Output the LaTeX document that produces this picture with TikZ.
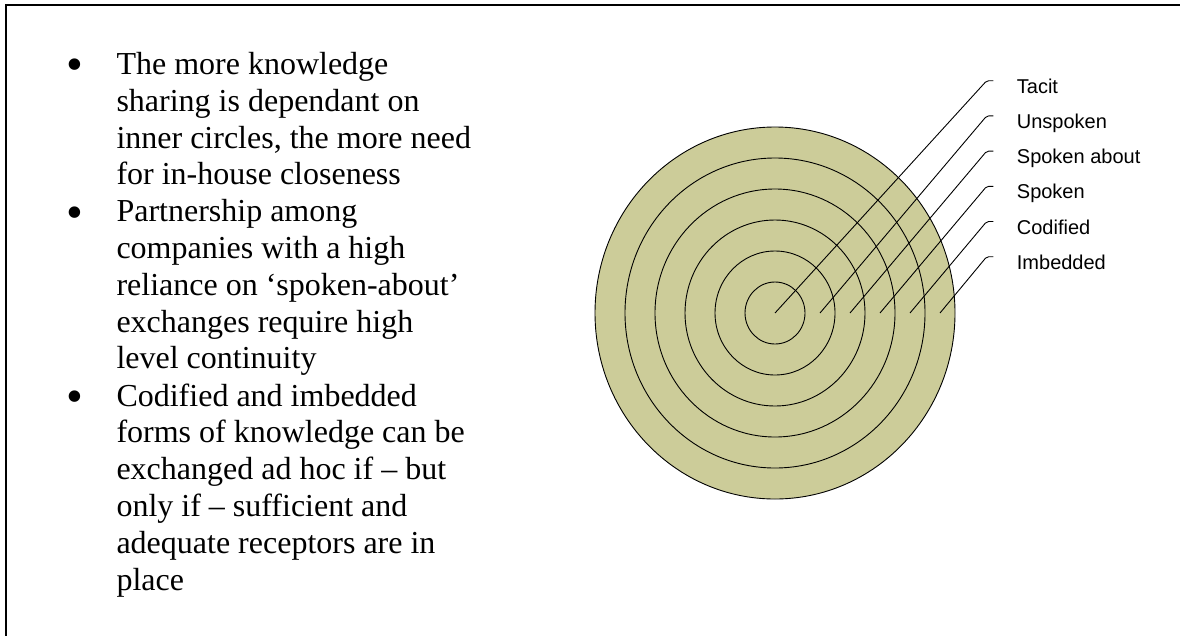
\documentclass[tikz,border=0pt]{standalone}
\usepackage{fontspec}
\setmainfont{Liberation Serif}
\newfontfamily\lblfont{Liberation Sans}
\usetikzlibrary{positioning}
\definecolor{ringfill}{HTML}{CCCC99}
\newcommand{\bigdot}{\llap{\raisebox{-6.4pt}{\fontsize{48}{36.8}\selectfont\textbullet}\hspace{32.8pt}}}

\begin{document}
\begin{tikzpicture}[x=1pt, y=-1pt,
      ring/.style={draw=black, fill=ringfill, line width=0.9pt},
      leader/.style={draw=black, line width=0.9pt, rounded corners=2pt},
      lbl/.style={font=\lblfont\fontsize{20}{24}\selectfont, inner sep=0pt, anchor=base west},
      item/.style={font=\fontsize{32}{36.8}\selectfont, inner sep=0pt, anchor=north west, align=left}]
      \useasboundingbox (0,0) rectangle (1180,635);
      \draw[line width=2pt] (5.8,640) -- (5.8,5) -- (1185,5);
      % bullet text
      \node[item] (closeness) at (116.3,52.1) {\bigdot The more knowledge\\sharing is dependant on\\inner circles, the more need\\for in-house closeness};
      \node[item] (continuity) at (116.3,199.3) {\bigdot Partnership among\\companies with a high\\reliance on ‘spoken-about’\\exchanges require high\\level continuity};
      \node[item] (receptors) at (116.3,383.3) {\bigdot Codified and imbedded\\forms of knowledge can be\\exchanged ad hoc if – but\\only if – sufficient and\\adequate receptors are in\\place};
      % rings
      \coordinate (ctr) at (775,313);
      \draw[ring] (ctr) ellipse [x radius=180pt, y radius=186pt];
      \draw[ring] (ctr) ellipse [x radius=150pt, y radius=155pt];
      \draw[ring] (ctr) ellipse [x radius=120pt, y radius=124pt];
      \draw[ring] (ctr) ellipse [x radius=90pt, y radius=93pt];
      \draw[ring] (ctr) ellipse [x radius=60pt, y radius=62pt];
      \draw[ring] (ctr) ellipse [x radius=30pt, y radius=31pt];
      % labels
      \node[lbl] (tacit) at (1016.7,93.3) {Tacit};
      \node[lbl] (unspoken) at (1016.7,128.5) {Unspoken};
      \node[lbl] (spokab) at (1016.7,163.7) {Spoken about};
      \node[lbl] (spoken) at (1016.7,198.9) {Spoken};
      \node[lbl] (codif) at (1016.7,234.1) {Codified};
      \node[lbl] (imbed) at (1016.7,269.3) {Imbedded};
      \coordinate (p1) at (775,313); \coordinate (p2) at (820,313); \coordinate (p3) at (850,313);
      \coordinate (p4) at (880,313); \coordinate (p5) at (910,313); \coordinate (p6) at (940,313);
      \draw[leader] (p1) -- ([shift={(-30,-12.6)}]tacit.base west) -- ([shift={(-23.4,-12.6)}]tacit.base west);
      \draw[leader] (p2) -- ([shift={(-30,-12.6)}]unspoken.base west) -- ([shift={(-23.4,-12.6)}]unspoken.base west);
      \draw[leader] (p3) -- ([shift={(-30,-12.6)}]spokab.base west) -- ([shift={(-23.4,-12.6)}]spokab.base west);
      \draw[leader] (p4) -- ([shift={(-30,-12.6)}]spoken.base west) -- ([shift={(-23.4,-12.6)}]spoken.base west);
      \draw[leader] (p5) -- ([shift={(-30,-12.6)}]codif.base west) -- ([shift={(-23.4,-12.6)}]codif.base west);
      \draw[leader] (p6) -- ([shift={(-30,-12.6)}]imbed.base west) -- ([shift={(-23.4,-12.6)}]imbed.base west);
    \end{tikzpicture}
\end{document}
